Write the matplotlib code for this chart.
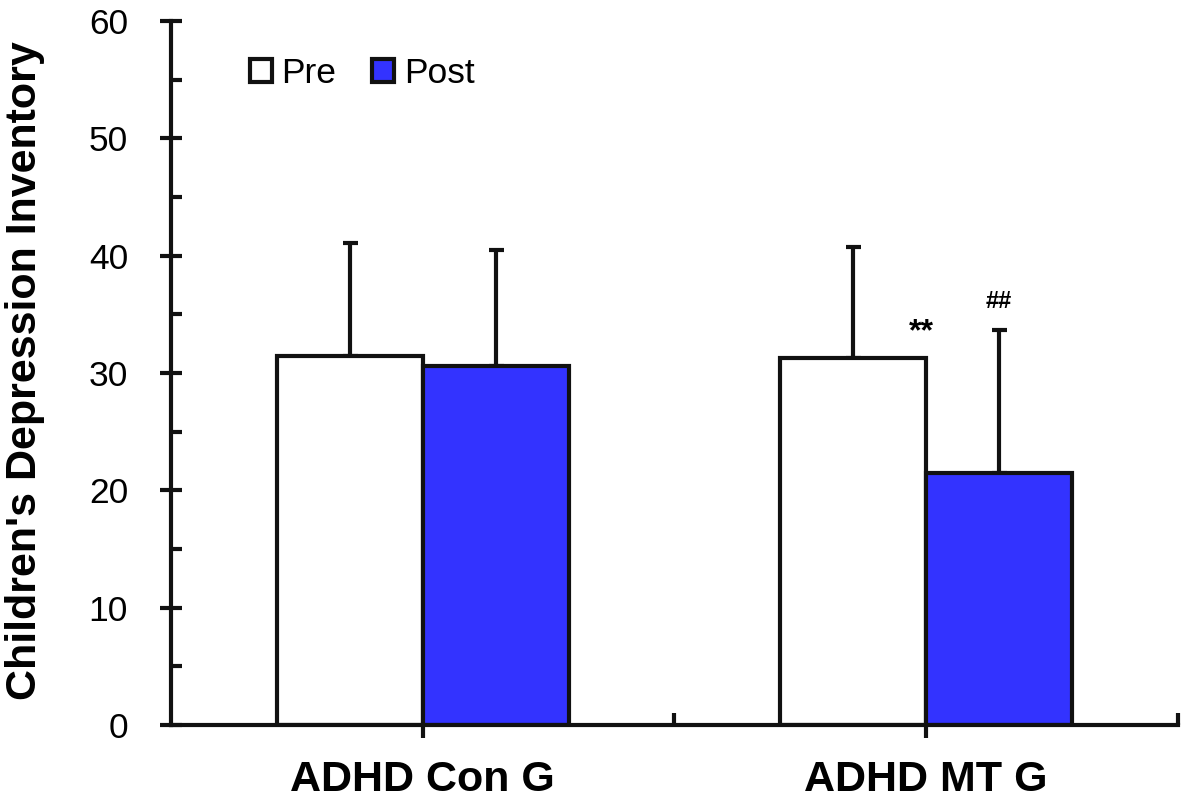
import numpy as np
import matplotlib
matplotlib.use("Agg")
import matplotlib.pyplot as plt
from matplotlib.patches import Patch

# -----------------------------
# Data
# -----------------------------
groups = ["ADHD Con G", "ADHD MT G"]
pre_mean = [31.45, 31.3]
pre_sd = [9.65, 9.4]
post_mean = [30.6, 21.5]
post_sd = [9.9, 12.2]

plt.rcParams["font.family"] = ["Liberation Sans", "DejaVu Sans"]

fig = plt.figure(figsize=(11.83, 8.02), dpi=100)
ax = fig.add_axes([0.1446, 0.096, 0.851, 0.8778])

x = np.arange(len(groups))
w = 0.29
lw = 3

ax.bar(x - w / 2, pre_mean, w, color="white", edgecolor="#111111", linewidth=lw, zorder=2)
ax.bar(x + w / 2, post_mean, w, color="#3333FF", edgecolor="#111111", linewidth=lw, zorder=2)

# one-sided (upper) error bars
ax.errorbar(x - w / 2, pre_mean, yerr=[np.zeros(len(x)), pre_sd], fmt="none",
            ecolor="#111111", elinewidth=lw, capsize=5.4, capthick=lw, zorder=1)
ax.errorbar(x + w / 2, post_mean, yerr=[np.zeros(len(x)), post_sd], fmt="none",
            ecolor="#111111", elinewidth=lw, capsize=5.4, capthick=lw, zorder=1)

# significance marks
ax.text(x[1] - 0.01, 32.8, "**", ha="center", va="baseline", fontsize=23, fontweight="bold")
ax.text(x[1] + w / 2, 35.5, "##", ha="center", va="baseline", fontsize=17, fontweight="bold")

# axes styling
ax.set_xlim(-0.5, 1.5)
ax.set_ylim(0, 60)
for s in ["top", "right"]:
    ax.spines[s].set_visible(False)
for s in ["left", "bottom"]:
    ax.spines[s].set_linewidth(lw)
    ax.spines[s].set_color("#111111")

ax.set_yticks(np.arange(0, 61, 10))
ax.set_yticks(np.arange(5, 60, 10), minor=True)
ax.tick_params(axis="y", which="major", direction="inout", length=16, width=lw,
               labelsize=25.5, pad=23, color="#111111")
ax.tick_params(axis="y", which="minor", direction="in", length=8, width=lw, color="#111111")

ax.set_xticks(x)
ax.set_xticklabels(groups, fontsize=31, fontweight="bold")
ax.set_xticks([0.5, 1.5], minor=True)
ax.tick_params(axis="x", which="major", direction="out", length=9, width=lw, pad=16,
               color="#111111")
ax.tick_params(axis="x", which="minor", direction="in", length=9, width=lw, color="#111111")

ax.set_ylabel("Children's Depression Inventory", fontsize=31, fontweight="bold")
ax.yaxis.set_label_coords(-0.125, 0.504)

handles = [Patch(facecolor="white", edgecolor="#111111", linewidth=lw),
           Patch(facecolor="#3333FF", edgecolor="#111111", linewidth=lw)]
ax.legend(handles, ["Pre", "Post"], loc="center left", bbox_to_anchor=(0.078, 0.926),
          ncol=2, frameon=False, fontsize=25.5, handlelength=0.62, handleheight=0.62,
          handletextpad=0.28, columnspacing=1.0, borderpad=0, borderaxespad=0)

fig.savefig("out.png", dpi=100)
